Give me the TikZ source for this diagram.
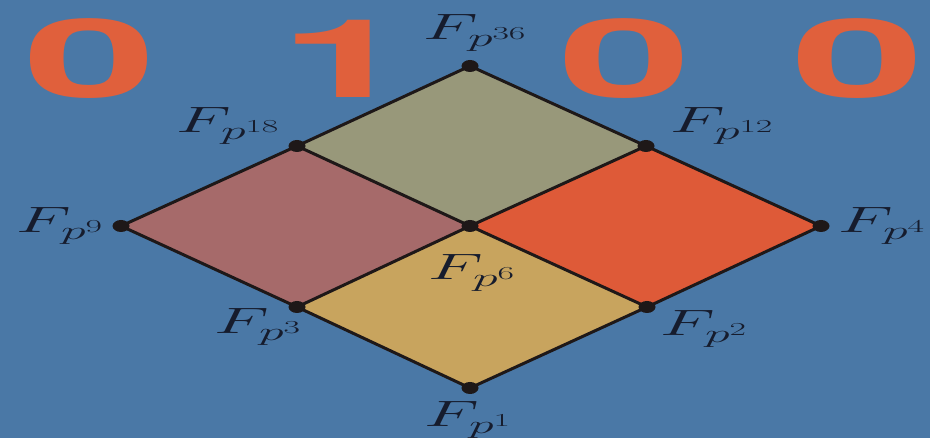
\RequirePackage{fix-cm}
\documentclass[tikz,border=0pt]{standalone}
\usepackage{fontspec}
\usepackage{graphicx}
\newfontfamily\digitfont{texgyreheros-bold.otf}
\usetikzlibrary{shapes.geometric}
\definecolor{bg}{RGB}{74,120,166}
\definecolor{digitc}{RGB}{224,96,60}
\definecolor{topc}{RGB}{152,152,122}
\definecolor{leftc}{RGB}{166,106,106}
\definecolor{rightc}{RGB}{222,90,56}
\definecolor{botc}{RGB}{200,164,94}
\definecolor{linec}{RGB}{30,24,24}
\definecolor{labc}{RGB}{22,28,45}
\newcommand{\bigdigit}[1]{{\digitfont\fontsize{109}{110}\selectfont\scalebox{2.2}[1]{#1}}}
\begin{document}
\begin{tikzpicture}[x=1pt,y=-1pt,
  digit/.style={inner sep=0pt, anchor=base, text=digitc},
  lab/.style={inner sep=0pt, anchor=base, text=labc, font=\fontsize{36.6}{40}\selectfont},
  dot/.style={ellipse, fill=linec, minimum width=17pt, minimum height=12pt, inner sep=0pt},
  edge/.style={draw=linec, line width=3pt, line join=round, line cap=round}]
\fill[bg] (0,0) rectangle (930,438);
\useasboundingbox (0,0) rectangle (930,438);
% digits
\node[digit] (d1) at (90,98) {\bigdigit{0}};
\node[digit] (d2) at (346,98) {\bigdigit{1}};
\node[digit] (d3) at (625,98) {\bigdigit{0}};
\node[digit] (d4) at (858,98) {\bigdigit{0}};
% vertices
\coordinate (p36) at (470,66);
\coordinate (p18) at (297,146);
\coordinate (p12) at (646,146);
\coordinate (p9) at (121,226);
\coordinate (p6) at (470,226);
\coordinate (p4) at (821,226);
\coordinate (p3) at (297,307);
\coordinate (p2) at (647,307);
\coordinate (p1) at (470,388);
% faces
\fill[topc] (p18) -- (p36) -- (p12) -- (p6) -- cycle;
\fill[leftc] (p9) -- (p18) -- (p6) -- (p3) -- cycle;
\fill[rightc] (p6) -- (p12) -- (p4) -- (p2) -- cycle;
\fill[botc] (p3) -- (p6) -- (p2) -- (p1) -- cycle;
% edges
\draw[edge] (p9) -- (p18) -- (p36) -- (p12) -- (p4) -- (p2) -- (p1) -- (p3) -- cycle;
\draw[edge] (p18) -- (p6) -- (p2);
\draw[edge] (p12) -- (p6) -- (p3);
% dots
\foreach \v in {p36,p18,p12,p9,p6,p4,p3,p2,p1}
  \node[dot] (n\v) at (\v) {};
% labels
\node[lab] (l36) at (475,40) {\scalebox{1.95}[1]{$F_{p^{36}}$}};
\node[lab] (l18) at (228,133) {\scalebox{1.95}[1]{$F_{p^{18}}$}};
\node[lab] (l12) at (722,133) {\scalebox{1.95}[1]{$F_{p^{12}}$}};
\node[lab] (l9) at (60,233) {\scalebox{1.95}[1]{$F_{p^{9}}$}};
\node[lab] (l4) at (882,233) {\scalebox{1.95}[1]{$F_{p^{4}}$}};
\node[lab] (l6) at (472,280) {\scalebox{1.95}[1]{$F_{p^{6}}$}};
\node[lab] (l3) at (258,334) {\scalebox{1.95}[1]{$F_{p^{3}}$}};
\node[lab] (l2) at (704,336) {\scalebox{1.95}[1]{$F_{p^{2}}$}};
\node[lab] (l1) at (468,427) {\scalebox{1.95}[1]{$F_{p^{1}}$}};
\end{tikzpicture}
\end{document}
